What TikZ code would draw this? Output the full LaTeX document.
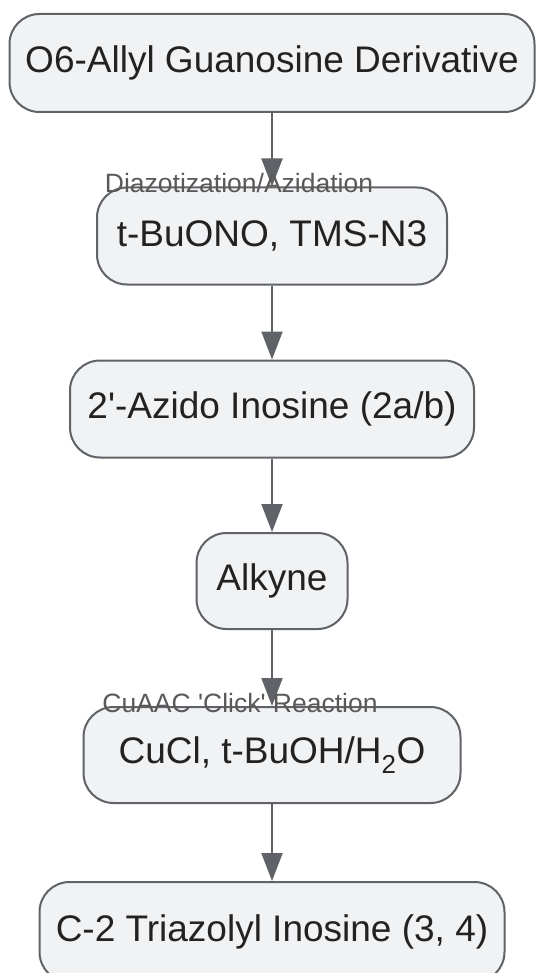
\documentclass[tikz,border=0pt]{standalone}
\usepackage{fontspec}
\setmainfont{Liberation Sans}
\usetikzlibrary{arrows.meta}
\definecolor{boxfill}{HTML}{F1F2F4}
\definecolor{boxline}{HTML}{5F6368}
\definecolor{boxtext}{HTML}{222222}
\definecolor{steptext}{HTML}{595959}
\tikzset{
  stage/.style={draw=boxline,line width=2pt,fill=boxfill,rounded corners=30pt,
    text=boxtext,font=\fontsize{37}{44}\selectfont,inner sep=0pt},
  steplabel/.style={text=steptext,font=\fontsize{26.5}{30}\selectfont,inner sep=0pt},
  flow/.style={draw=boxline,line width=2pt,-{Triangle[length=28pt,width=21pt]}}
}
\begin{document}
\begin{tikzpicture}
  [x=1pt,y=-1pt]
\useasboundingbox (0,0) rectangle (536,973);
\node (n1)[stage,minimum width=525pt,minimum height=98pt] at (272,63) {O6-Allyl Guanosine Derivative};
  \node (n2)[stage,minimum width=350pt,minimum height=97pt] at (272,236) {t-BuONO, TMS-N3};
  \node (n3)[stage,minimum width=404pt,minimum height=97pt] at (272,409) {2\textquotesingle-Azido Inosine (2a/b)};
  \node (n4)[stage,minimum width=151pt,minimum height=96pt] at (272,581) {Alkyne};
  \node (n5)[stage,minimum width=377pt,minimum height=96pt] at (272,755) {CuCl, t-BuOH/H\textsubscript{2}O};
  \node (n6)[stage,minimum width=465pt,minimum height=100pt] at (272,932) {C-2 Triazolyl Inosine (3, 4)};

 \path [flow] (n1.south) -- (n2.north);
 \path [flow] (n2.south) -- (n3.north);
 \path [flow] (n3.south) -- (n4.north);
 \path [flow] (n4.south) -- (n5.north);
 \path [flow] (n5.south) -- (n6.north);

  \node (l1)[steplabel] at (239,183) {Diazotization/Azidation};
  \node (l2)[steplabel] at (240,703) {CuAAC \textquotesingle Click\textquotesingle{} Reaction};
\end{tikzpicture}
\end{document}
